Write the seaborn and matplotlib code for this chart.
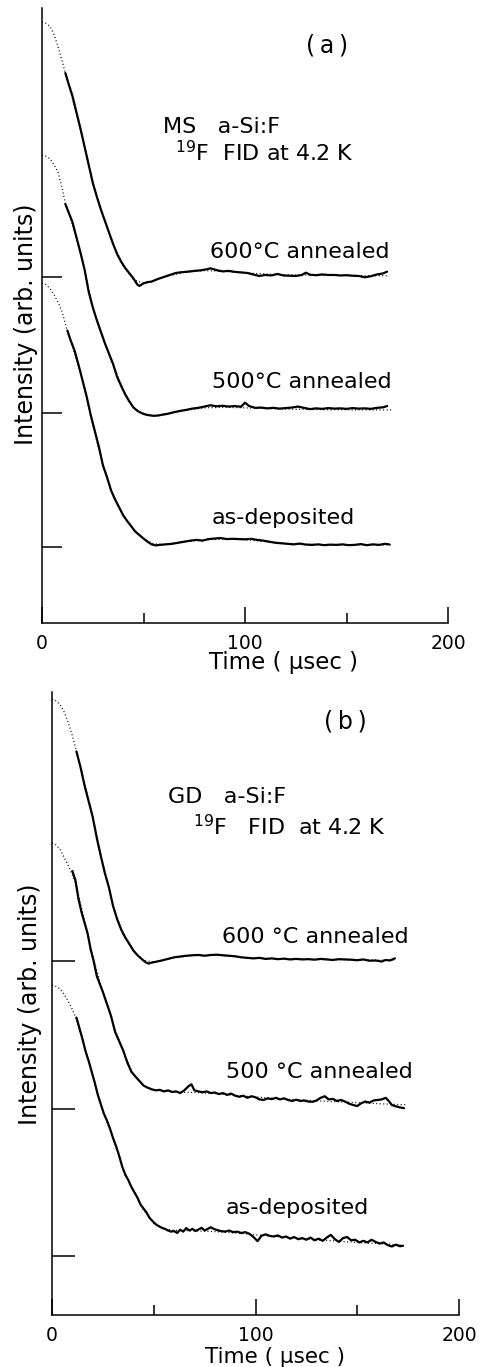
import matplotlib
matplotlib.use("Agg")
import matplotlib.pyplot as plt
import seaborn as sns
import pandas as pd

# ------------------------------------------------------------------
# Data: (time in usec, normalised FID intensity)
# solid = measured FID, fit = dotted calculated curve
# ------------------------------------------------------------------
# Panel (a)  MS a-Si:F
a600_solid = [(11.5,0.80),(13,0.76),(15,0.71),(17,0.645),(19,0.58),(21,0.51),(23,0.44),(25,0.37),
    (27,0.315),(29,0.265),(31,0.22),(33,0.175),(35,0.13),(37,0.09),(39,0.06),(41,0.035),(43,0.015),
    (45,-0.005),(47,-0.03),(48,-0.035),(50,-0.025),(52,-0.02),(54,-0.018),(57,-0.008),(60,0.0),
    (63,0.008),(66,0.016),(69,0.019),(72,0.021),(75,0.024),(78,0.026),(81,0.03),(83,0.034),(86,0.027),
    (89,0.022),(92,0.024),(95,0.02),(98,0.018),(101,0.016),(104,0.01),(107,0.004),(110,0.008),
    (113,0.006),(116,0.012),(119,0.006),(122,0.005),(125,0.004),(128,0.008),(130,0.017),(132,0.009),
    (135,0.007),(138,0.01),(141,0.008),(144,0.008),(147,0.006),(150,0.007),(153,0.005),(156,0.004),
    (159,-0.001),(162,0.003),(165,0.01),(168,0.014),(170,0.021)]
a600_fit = [(0,1.0),(2,0.995),(4,0.982),(6,0.95),(8,0.90),(10,0.845),(12,0.785),(15,0.70),(20,0.545),
    (25,0.37),(30,0.24),(35,0.13),(40,0.045),(45,-0.01),(50,-0.025),(55,-0.015),(60,0.0),(70,0.018),
    (80,0.025),(90,0.022),(100,0.016),(120,0.008),(140,0.007),(160,0.005),(170,0.005)]

a500_solid = [(11.5,0.81),(13,0.78),(15,0.74),(17,0.68),(19,0.62),(21,0.555),(23,0.47),(25,0.41),
    (27,0.36),(29,0.315),(31,0.27),(33,0.23),(35,0.19),(37,0.14),(39,0.105),(41,0.072),(43,0.045),
    (45,0.022),(47,0.008),(49,0.0),(51,-0.006),(53,-0.009),(55,-0.011),(57,-0.01),(59,-0.007),
    (62,-0.003),(65,0.003),(68,0.008),(71,0.012),(74,0.017),(77,0.02),(80,0.025),(83,0.03),(86,0.026),
    (89,0.028),(92,0.025),(95,0.027),(98,0.024),(100,0.04),(102,0.027),(105,0.02),(108,0.021),
    (111,0.018),(114,0.02),(117,0.017),(120,0.019),(123,0.021),(126,0.025),(129,0.02),(132,0.015),
    (135,0.018),(138,0.016),(141,0.019),(144,0.017),(147,0.018),(150,0.016),(153,0.019),(156,0.017),
    (159,0.018),(162,0.016),(165,0.02),(168,0.022),(170,0.027)]
a500_fit = [(0,1.0),(2,0.995),(4,0.985),(6,0.962),(8,0.93),(10,0.87),(11.5,0.81),(15,0.73),(20,0.59),
    (25,0.41),(30,0.29),(35,0.19),(40,0.09),(45,0.022),(50,-0.004),(55,-0.01),(60,-0.006),(70,0.01),
    (80,0.02),(90,0.022),(100,0.02),(120,0.015),(140,0.013),(160,0.012),(172,0.012)]

a_dep_solid = [(12.5,0.82),(14,0.785),(16,0.745),(18,0.69),(20,0.63),(22,0.57),(24,0.50),(26,0.44),
    (28,0.38),(30,0.31),(32,0.265),(34,0.215),(36,0.18),(38,0.15),(40,0.12),(42,0.098),(44,0.078),
    (46,0.058),(48,0.045),(50,0.032),(52,0.02),(54,0.01),(56,0.006),(58,0.008),(61,0.01),(64,0.012),
    (67,0.016),(70,0.02),(73,0.024),(76,0.027),(79,0.024),(82,0.03),(85,0.032),(88,0.034),(91,0.03),
    (94,0.031),(97,0.03),(100,0.029),(103,0.031),(106,0.027),(109,0.024),(112,0.02),(115,0.016),
    (118,0.014),(121,0.012),(124,0.01),(127,0.013),(130,0.009),(133,0.008),(136,0.01),(139,0.007),
    (142,0.009),(145,0.008),(148,0.01),(151,0.007),(154,0.008),(157,0.011),(160,0.007),(163,0.01),
    (166,0.008),(169,0.012),(171,0.01)]
a_dep_fit = [(0,1.0),(2,0.994),(4,0.978),(6,0.955),(8,0.925),(10,0.89),(12,0.83),(15,0.76),(20,0.63),
    (25,0.46),(30,0.31),(35,0.195),(40,0.12),(45,0.068),(50,0.032),(55,0.012),(60,0.01),(70,0.02),
    (80,0.027),(90,0.03),(100,0.028),(120,0.013),(140,0.008),(160,0.008),(172,0.008)]

# Panel (b)  GD a-Si:F
b600_solid = [(12,0.80),(14,0.74),(16,0.67),(18,0.61),(20,0.55),(22,0.47),(24,0.40),(26,0.335),
    (28,0.28),(30,0.21),(32,0.16),(34,0.12),(36,0.09),(38,0.065),(40,0.04),(42,0.022),(44,0.008),
    (46,-0.005),(47.5,-0.01),(49,-0.006),(51,-0.003),(54,0.002),(57,0.008),(60,0.014),(63,0.017),
    (66,0.02),(69,0.022),(72,0.023),(75,0.02),(78,0.023),(81,0.024),(84,0.022),(87,0.02),(90,0.018),
    (93,0.014),(96,0.012),(99,0.01),(102,0.012),(105,0.008),(108,0.01),(111,0.007),(114,0.009),
    (117,0.006),(120,0.008),(123,0.006),(126,0.007),(129,0.005),(132,0.008),(135,0.006),(138,0.004),
    (141,0.007),(144,0.006),(147,0.005),(150,0.003),(153,0.006),(156,0.001),(159,0.002),(162,-0.002),
    (164,0.004),(166,0.002),(168.5,0.01)]
b600_fit = [(0,1.0),(2,0.993),(4,0.978),(6,0.95),(8,0.91),(10,0.86),(12,0.80),(15,0.71),(20,0.55),
    (25,0.37),(30,0.21),(35,0.10),(40,0.04),(45,0.003),(50,-0.005),(55,0.004),(60,0.013),(70,0.022),
    (80,0.022),(90,0.017),(100,0.01),(120,0.007),(140,0.005),(160,0.003),(169,0.004)]

b500_solid = [(10,0.895),(11.5,0.86),(13,0.79),(14.5,0.74),(16,0.70),(17.5,0.66),(19,0.60),(20.5,0.555),
    (22,0.50),(23.5,0.47),(25,0.44),(27,0.395),(29,0.35),(31,0.29),(33,0.255),(35,0.22),(37,0.175),
    (39,0.14),(41,0.122),(43,0.105),(45,0.088),(47,0.08),(49,0.074),(51,0.07),(53,0.072),(55,0.066),
    (57,0.07),(59,0.064),(61,0.066),(63,0.06),(65,0.07),(67,0.085),(68.5,0.093),(70,0.07),(72,0.066),
    (74,0.063),(76,0.066),(78,0.06),(80,0.062),(82,0.056),(84,0.06),(86,0.053),(88,0.058),(90,0.05),
    (92,0.046),(94,0.05),(96,0.042),(98,0.048),(100,0.044),(102,0.036),(104,0.034),(106,0.04),
    (108,0.037),(110,0.042),(112,0.036),(114,0.04),(116,0.034),(118,0.03),(120,0.035),(122,0.03),
    (124,0.032),(126,0.028),(128,0.027),(130,0.032),(132,0.042),(134,0.048),(136,0.036),(138,0.038),
    (140,0.03),(142,0.034),(144,0.028),(146,0.02),(148,0.015),(150,0.011),(152,0.022),(154,0.028),
    (156,0.024),(158,0.032),(160,0.034),(162,0.036),(164,0.042),(165.5,0.03),(167,0.015),(169,0.01),
    (171,0.006),(173,0.003)]
b500_fit = [(0,1.0),(2,0.993),(4,0.975),(6,0.945),(8,0.915),(10,0.88),(12,0.84),(15,0.74),(20,0.575),
    (25,0.44),(30,0.32),(35,0.215),(40,0.13),(45,0.088),(50,0.072),(55,0.068),(60,0.064),(70,0.062),
    (80,0.058),(90,0.051),(100,0.045),(110,0.04),(120,0.035),(130,0.031),(140,0.027),(150,0.024),
    (160,0.02),(170,0.017),(174,0.016)]

b_dep_solid = [(12,0.88),(13.5,0.84),(15,0.80),(16.5,0.755),(18,0.72),(19.5,0.68),(21,0.64),(22.5,0.595),
    (24,0.56),(25.5,0.525),(27,0.50),(28.5,0.47),(30,0.435),(31.5,0.405),(33,0.37),(34.5,0.33),(36,0.30),
    (37.5,0.28),(39,0.255),(40.5,0.235),(42,0.215),(43.5,0.19),(45,0.175),(46.5,0.16),(48,0.14),
    (49.5,0.128),(51,0.117),(52.5,0.11),(54,0.104),(55.5,0.1),(57,0.094),(58.5,0.09),(60,0.092),
    (61.5,0.085),(63,0.097),(64.5,0.09),(66,0.103),(67.5,0.094),(69,0.1),(70.5,0.092),(72,0.098),
    (73.5,0.104),(75,0.094),(76.5,0.1),(78,0.106),(79.5,0.1),(81,0.096),(83,0.092),(85,0.09),(87,0.094),
    (89,0.088),(91,0.09),(93,0.085),(95,0.088),(97,0.082),(99,0.07),(101,0.055),(103,0.075),(105,0.08),
    (107,0.074),(109,0.072),(111,0.076),(113,0.068),(115,0.072),(117,0.064),(119,0.07),(121,0.062),
    (123,0.066),(125,0.06),(127,0.068),(129,0.058),(131,0.064),(133,0.056),(135,0.068),(137,0.078),
    (139,0.062),(141,0.052),(143,0.066),(145,0.07),(147,0.058),(149,0.06),(151,0.05),(153,0.056),
    (155,0.05),(157,0.06),(159,0.052),(161,0.046),(163,0.05),(165,0.04),(167,0.035),(169,0.042),
    (171,0.036),(172.5,0.038)]
b_dep_fit = [(0,1.0),(2,0.995),(4,0.985),(6,0.965),(8,0.94),(10,0.91),(12,0.875),(15,0.80),(20,0.665),
    (25,0.535),(30,0.435),(35,0.32),(40,0.24),(45,0.17),(50,0.12),(55,0.1),(60,0.095),(70,0.093),
    (80,0.09),(90,0.085),(100,0.078),(110,0.072),(120,0.066),(130,0.06),(140,0.055),(150,0.05),
    (160,0.046),(172,0.04)]

# per-curve vertical offset (baseline) and amplitude, arb. units
a_baseline = [3.46, 2.10, 0.76]
a_amplitude = [2.55, 2.58, 2.64]
b_baseline = [3.54, 2.06, 0.59]
b_amplitude = [2.62, 2.66, 2.71]

a_labels = ["600°C annealed", "500°C annealed", "as-deposited"]
b_labels = ["600 °C annealed", "500 °C annealed", "as-deposited"]
x_ticks = [0, 100, 200]
x_minor = [50, 150]

# ------------------------------------------------------------------
sns.set_style("ticks")
plt.rcParams["font.family"] = ["DejaVu Sans"]
plt.rcParams["mathtext.fontset"] = "dejavusans"
plt.rcParams.update({
    "text.color": "black",
    "axes.labelcolor": "black",
    "axes.edgecolor": "black",
    "xtick.color": "black",
    "ytick.color": "black",
    "xtick.labelcolor": "black",
})

W, H = 482, 1367
fig = plt.figure(figsize=(W / 100, H / 100), dpi=100)
fig.patch.set_facecolor("white")

axA = fig.add_axes([42 / W, 1 - 623 / H, 406 / W, 615 / H])
axB = fig.add_axes([52 / W, 1 - 1315 / H, 407 / W, 623 / H])


def curve_frame(pairs, base, amp):
    df = pd.DataFrame(pairs, columns=["time", "value"])
    df["intensity"] = base + amp * df["value"]
    return df


def draw(ax, solids, fits, bases, amps, ytop, ticklen):
    for s, f, b, a in zip(solids, fits, bases, amps):
        fd = curve_frame(f, b, a)
        sns.lineplot(data=fd, x="time", y="intensity", ax=ax, color="black",
                     lw=0.9, linestyle=(0, (0.8, 2.0)), sort=False, estimator=None)
        sd = curve_frame(s, b, a)
        sns.lineplot(data=sd, x="time", y="intensity", ax=ax, color="black",
                     lw=1.6, sort=False, estimator=None)
    ax.set_xlim(0, 200)
    ax.set_ylim(0, ytop)
    for sp in ["top", "right"]:
        ax.spines[sp].set_visible(False)
    for sp in ["left", "bottom"]:
        ax.spines[sp].set_linewidth(1.1)
        ax.spines[sp].set_color("black")
    ax.set_xticks(x_ticks)
    ax.set_xticklabels([str(v) for v in x_ticks])
    ax.set_xticks(x_minor, minor=True)
    ax.tick_params(axis="x", which="major", direction="in", length=11.5, width=1.1,
                   pad=8, labelsize=13.5, colors="black")
    ax.tick_params(axis="x", which="minor", direction="in", length=7, width=1.1, colors="black")
    ax.set_yticks(bases)
    ax.set_yticklabels([])
    ax.tick_params(axis="y", which="major", direction="in", length=ticklen, width=1.1,
                   colors="black")
    ax.tick_params(axis="y", which="minor", left=False)
    ax.set_facecolor("white")


draw(axA, [a600_solid, a500_solid, a_dep_solid], [a600_fit, a500_fit, a_dep_fit],
     a_baseline, a_amplitude, 6.15, 14.4)
draw(axB, [b600_solid, b500_solid, b_dep_solid], [b600_fit, b500_fit, b_dep_fit],
     b_baseline, b_amplitude, 6.23, 16.5)

# axis labels
for ax, xl, yl, fsx in [(axA, (0.596, -0.065), (-0.039, 0.485), 16.5),
                        (axB, (0.548, -0.067), (-0.054, 0.498), 15.5)]:
    ax.set_xlabel("Time ( μsec )", fontsize=fsx, color="black")
    ax.xaxis.label.set_verticalalignment("center")
    ax.xaxis.set_label_coords(*xl)
    ax.set_ylabel("Intensity (arb. units)", fontsize=17, color="black")
    ax.yaxis.label.set_rotation_mode("default")
    ax.yaxis.label.set_verticalalignment("center")
    ax.yaxis.label.set_horizontalalignment("center")
    ax.yaxis.set_label_coords(*yl)

# annotations panel (a)
tk = dict(fontsize=16, ha="left", va="center", color="black")
axA.text(140.4, 5.78, "(\u2009a\u2009)", fontsize=17, ha="center", va="center", color="black")
axA.text(59.6, 4.96, "MS   a-Si:F", **tk)
axA.text(65.5, 4.70, r"$^{19}$F  FID at 4.2 K", **tk)
axA.text(82.8, 3.71, a_labels[0], **tk)
axA.text(83.7, 2.41, a_labels[1], **tk)
axA.text(83.7, 1.05, a_labels[2], **tk)

# annotations panel (b)
axB.text(144.0, 5.93, "(\u2009b\u2009)", fontsize=17, ha="center", va="center", color="black")
axB.text(57.0, 5.18, "GD   a-Si:F", **tk)
axB.text(69.3, 4.88, r"$^{19}$F   FID  at 4.2 K", **tk)
axB.text(83.5, 3.78, b_labels[0], **tk)
axB.text(85.5, 2.43, b_labels[1], **tk)
axB.text(85.5, 1.07, b_labels[2], **tk)

fig.savefig("out.png", dpi=100, facecolor="white")
